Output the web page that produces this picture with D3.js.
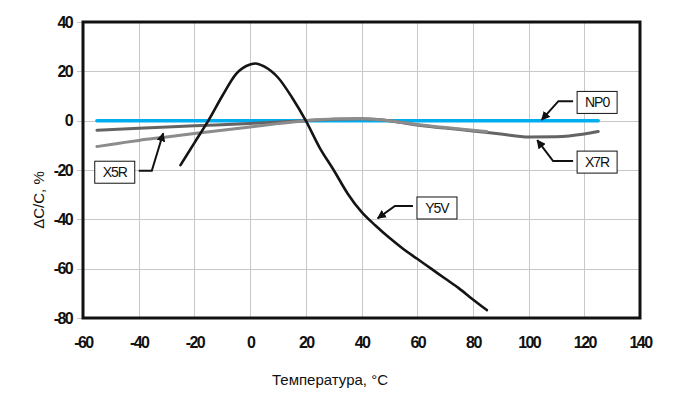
<!DOCTYPE html>
<head>
    <meta charset="utf-8">
    <title>Temperature characteristics</title>
    <script src="https://cdn.jsdelivr.net/npm/d3@7/dist/d3.min.js"></script>
    <style>
        body { margin: 0; background: #fff; }
        svg { display: block; }
        .grid line { stroke: #c8c8c8; stroke-width: 1; shape-rendering: crispEdges; }
        .grid .domain { display: none; }
        .grid text {
            font-family: "Liberation Sans", Arial, sans-serif;
            font-weight: bold;
            font-size: 16px;
            letter-spacing: -1.6px;
            fill: #111;
        }
        .title {
            font-family: "Liberation Sans", Arial, sans-serif;
            font-size: 15px;
            fill: #111;
        }
        .tag text {
            font-family: "Liberation Sans", Arial, sans-serif;
            font-size: 14px;
            letter-spacing: -1px;
            fill: #111;
        }
    </style>
</head>
<body>
<svg width="675" height="399"></svg>
<script>
    // axis ticks
    var xTicks = [-60, -40, -20, 0, 20, 40, 60, 80, 100, 120, 140];
    var yTicks = [40, 20, 0, -20, -40, -60, -80];

    // NP0
    var np0Temp = [-55, 125];
    var np0Val = [0, 0];

    // X7R
    var x7rTemp = [-55, -40, -20, 0, 20, 30, 40, 50, 60, 70, 80, 90, 100, 110, 120, 125];
    var x7rVal = [-3.9, -3.1, -2.1, -1.1, 0, 0.6, 0.8, 0, -1.8, -3, -4.2, -5.4, -6.6, -6.5, -5.4, -4.4];

    // X5R
    var x5rTemp = [-55, -50, -45, -40, -30, -20, -10, 0, 10, 20, 30, 40, 50, 60, 70, 80, 85];
    var x5rVal = [-10.5, -9.7, -8.8, -8, -6.6, -5.2, -3.9, -2.6, -1.2, 0, 0.7, 0.8, 0, -1.6, -2.8, -3.9, -4.4];

    // Y5V
    var y5vTemp = [-25, -20, -15, -10, -5, 0, 2, 5, 10, 15, 20, 25, 30, 35, 40, 45, 50, 55, 60, 65, 70, 75, 80, 85];
    var y5vVal = [-18, -9, 0, 10, 19, 22.8, 23.2, 22, 17.5, 9.5, 0, -11, -20, -29.5, -37, -42.5, -47.5, -52, -56, -60, -64, -68, -72.5, -76.8];

    // callouts: label, box centre, elbow and arrow tip in data units
    var tagNames = ["NP0", "X7R", "Y5V", "X5R"];
    var tagBox = [[124.6, 7.4], [124.6, -16.8], [67.1, -35.4], [-48.6, -20.9]];
    var tagElbow = [[110.7, 7.9], [108.8, -16.4], [52, -34.6], [-35.3, -20.3]];
    var tagTip = [[104.7, 0.3], [103.1, -7.9], [45.8, -39.6], [-31.2, -5.1]];

    var plotL = 83, plotR = 640, plotT = 22, plotB = 318;

    var svg = d3.select("svg");

    var x = d3.scaleLinear().domain([-60, 140]).range([plotL, plotR]);
    var y = d3.scaleLinear().domain([-80, 40]).range([plotB, plotT]);

    svg.append("defs").append("marker")
        .attr("id", "head")
        .attr("viewBox", "0 0 10 10")
        .attr("refX", 9).attr("refY", 5)
        .attr("markerWidth", 4.5).attr("markerHeight", 4.5)
        .attr("markerUnits", "strokeWidth")
        .attr("orient", "auto")
        .append("path")
        .attr("d", "M0,0L10,5L0,10z")
        .attr("fill", "#111");

    // grid + tick labels (plain hyphen for minus, like the original)
    var fmt = function (d) { return String(d); };

    svg.append("g")
        .attr("class", "grid")
        .attr("transform", "translate(" + (plotL - 6) + ",0)")
        .call(d3.axisLeft(y).tickValues(yTicks).tickFormat(fmt).tickSize(-(plotR - plotL + 6)).tickPadding(5));

    svg.append("g")
        .attr("class", "grid")
        .attr("transform", "translate(0," + plotB + ")")
        .call(d3.axisBottom(x).tickValues(xTicks).tickFormat(fmt).tickSize(-(plotB - plotT)).tickPadding(19));

    svg.append("rect")
        .attr("x", plotL).attr("y", plotT)
        .attr("width", plotR - plotL).attr("height", plotB - plotT)
        .attr("fill", "none")
        .attr("stroke", "#111")
        .attr("stroke-width", 3);

    var line = d3.line()
        .x(function (d) { return x(d[0]); })
        .y(function (d) { return y(d[1]); })
        .curve(d3.curveMonotoneX);

    var series = [
        {t: np0Temp, v: np0Val, color: "#00aeef", w: 3.5},
        {t: x7rTemp, v: x7rVal, color: "#646464", w: 3},
        {t: x5rTemp, v: x5rVal, color: "#8c8c8c", w: 3},
        {t: y5vTemp, v: y5vVal, color: "#141414", w: 2.6}
    ];

    series.forEach(function (s) {
        svg.append("path")
            .datum(d3.zip(s.t, s.v))
            .attr("d", line)
            .attr("fill", "none")
            .attr("stroke", s.color)
            .attr("stroke-width", s.w)
            .attr("stroke-linejoin", "round")
            .attr("stroke-linecap", "round");
    });

    // callout boxes with arrows
    var boxW = 40, boxH = 22;
    tagNames.forEach(function (name, i) {
        var cx = x(tagBox[i][0]), cy = y(tagBox[i][1]);
        var ex = x(tagElbow[i][0]), ey = y(tagElbow[i][1]);
        var side = ex < cx ? cx - boxW / 2 - 4 : cx + boxW / 2 + 4;
        var g = svg.append("g").attr("class", "tag");

        g.append("path")
            .attr("d", "M" + side + "," + ey + "L" + ex + "," + ey + "L" + x(tagTip[i][0]) + "," + y(tagTip[i][1]))
            .attr("fill", "none")
            .attr("stroke", "#111")
            .attr("stroke-width", 2)
            .attr("marker-end", "url(#head)");

        g.append("rect")
            .attr("x", cx - boxW / 2).attr("y", cy - boxH / 2)
            .attr("width", boxW).attr("height", boxH)
            .attr("fill", "#fff")
            .attr("stroke", "#111")
            .attr("stroke-width", 1);

        g.append("text")
            .attr("x", cx).attr("y", cy + 5)
            .attr("text-anchor", "middle")
            .text(name);
    });

    svg.append("text")
        .attr("class", "title")
        .attr("x", 330).attr("y", 385)
        .attr("text-anchor", "middle")
        .text("Температура, °C");

    svg.append("text")
        .attr("class", "title")
        .attr("transform", "translate(44,200) rotate(-90)")
        .attr("text-anchor", "middle")
        .text("ΔC/C, %");
</script>
</body>
